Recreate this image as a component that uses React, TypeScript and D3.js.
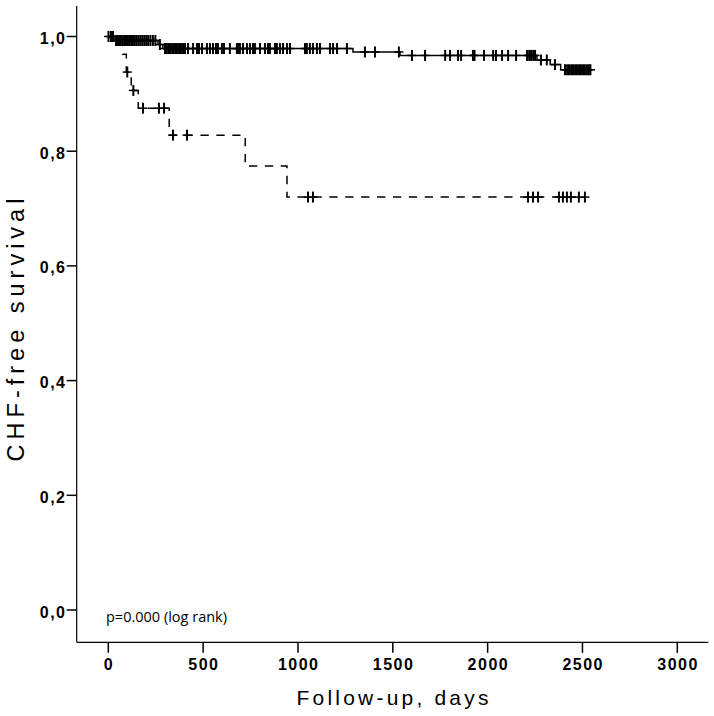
import React from 'react';
import * as d3 from 'd3';

// ---- data ----
const xTicks = [0, 500, 1000, 1500, 2000, 2500, 3000];
const yTicks = [0, 0.2, 0.4, 0.6, 0.8, 1.0];

// Group 1 (solid line): step times (days) and survival after each step
const solidTimes = [0, 30, 262, 288, 1290, 1538, 2260, 2330, 2385];
const solidSurv = [1.0, 0.993, 0.986, 0.979, 0.973, 0.967, 0.959, 0.951, 0.942];
const solidEnd = 2542;
const solidCensored = [
  1, 14, 25,
  41, 50, 58, 66, 75, 84, 93, 102, 110, 120, 130, 140, 150, 160, 170, 180, 190, 200, 210, 222, 235, 248,
  272,
  299, 309, 320, 330, 341, 352, 362, 373, 383, 394, 404, 420, 447, 468, 478, 494, 520, 536, 552, 568, 578,
  599, 610, 641, 678, 686, 694, 710, 731, 747, 763, 773, 800, 826, 842, 852, 879, 889, 905, 921, 942, 958,
  1037, 1047, 1063, 1079, 1100, 1116, 1169, 1185, 1206, 1258,
  1353, 1406, 1532,
  1601, 1670, 1776, 1802, 1844, 1860, 1923, 1931, 1981, 2029, 2044, 2076, 2108, 2150, 2208, 2219, 2229, 2240, 2250,
  2281, 2312, 2355,
  2408, 2419, 2429, 2440, 2450, 2461, 2471, 2482, 2492, 2503, 2513, 2524, 2534, 2542,
];

// Group 2 (dashed line)
const dashedTimes = [0, 76, 95, 121, 158, 321, 722, 942];
const dashedSurv = [1.0, 0.969, 0.938, 0.906, 0.875, 0.828, 0.774, 0.72];
const dashedEnd = 2513;
const dashedCensored = [100, 132, 183, 267, 294, 341, 415, 1053, 1079, 2213, 2239, 2266, 2376, 2397, 2418, 2439, 2481, 2513];

const W = 714;
const H = 716;
const axisLeft = 76.7;
const axisBottom = 642.3;
const axisTop = 6;
const axisRight = 708.3;

const x = d3.scaleLinear().domain([0, 3000]).range([108.3, 677.3]);
const y = d3.scaleLinear().domain([0, 1]).range([610, 36.5]);

function stepPoints(times: number[], surv: number[], end: number): [number, number][] {
  const pts: [number, number][] = times.map((t, i) => [t, surv[i]]);
  pts.push([end, surv[surv.length - 1]]);
  return pts;
}

function survAt(times: number[], surv: number[], t: number): number {
  const i = d3.bisectRight(times, t) - 1;
  return surv[Math.max(0, i)];
}

const line = d3
  .line<[number, number]>()
  .x((d) => x(d[0]))
  .y((d) => y(d[1]))
  .curve(d3.curveStepAfter);

const fmtY = (v: number) => d3.format('.1f')(v).replace('.', ',');

const tickFont = "'Liberation Sans', Arial, Helvetica, sans-serif";

function Censor({ t, s }: { t: number; s: number }) {
  const cx = x(t);
  const cy = y(s);
  return (
    <g>
      <line x1={cx - 4.5} x2={cx + 4.5} y1={cy} y2={cy} stroke="#000" strokeWidth={1.5} />
      <line x1={cx} x2={cx} y1={cy - 5.5} y2={cy + 5.5} stroke="#000" strokeWidth={2} />
    </g>
  );
}

export default function App() {
  const solidPath = line(stepPoints(solidTimes, solidSurv, solidEnd)) || '';
  const dashedPath = line(stepPoints(dashedTimes, dashedSurv, dashedEnd)) || '';
  return (
    <svg
      width={W}
      height={H}
      viewBox={`0 0 ${W} ${H}`}
      style={{ position: 'absolute', left: 0, top: 0, display: 'block', background: '#fff' }}
    >
      <rect x={0} y={0} width={W} height={H} fill="#fff" />
      {/* axes */}
      <line x1={axisLeft} x2={axisLeft} y1={axisTop} y2={axisBottom} stroke="#000" strokeWidth={1.2} />
      <line x1={axisLeft} x2={axisRight} y1={axisBottom} y2={axisBottom} stroke="#000" strokeWidth={1.2} />
      {yTicks.map((v) => (
        <g key={'y' + v}>
          <line x1={axisLeft - 10} x2={axisLeft} y1={y(v)} y2={y(v)} stroke="#000" strokeWidth={1.5} />
          <text
            x={66.5}
            y={y(v) + 7.5}
            textAnchor="end"
            fontFamily={tickFont}
            fontWeight="bold"
            fontSize={16}
            letterSpacing={1.5}
            fill="#000"
          >
            {fmtY(v)}
          </text>
        </g>
      ))}
      {xTicks.map((v) => (
        <g key={'x' + v}>
          <line x1={x(v)} x2={x(v)} y1={axisBottom} y2={axisBottom + 10.5} stroke="#000" strokeWidth={1.5} />
          <text
            x={x(v) + 0.75}
            y={670}
            textAnchor="middle"
            fontFamily={tickFont}
            fontWeight="bold"
            fontSize={16}
            letterSpacing={1.5}
            fill="#000"
          >
            {v}
          </text>
        </g>
      ))}
      {/* axis titles */}
      <text
        x={392.5 + 1.6}
        y={705}
        textAnchor="middle"
        fontFamily={tickFont}
        fontSize={21}
        letterSpacing={3.2}
        fill="#000"
      >
        Follow-up, days
      </text>
      <text
        transform={`translate(23.5, ${325 + 2.5}) rotate(-90)`}
        textAnchor="middle"
        fontFamily={tickFont}
        fontSize={23.5}
        letterSpacing={5}
        fill="#000"
      >
        CHF-free survival
      </text>
      <text x={106} y={621.5} fontFamily="'Open Sans', 'Noto Sans', sans-serif" fontSize={14.5} fill="#000">
        p=0.000 (log rank)
      </text>
      {/* curves */}
      <path d={dashedPath} fill="none" stroke="#000" strokeWidth={1.5} strokeDasharray="8.3,7.6" />
      <path d={solidPath} fill="none" stroke="#000" strokeWidth={1.5} />
      {dashedCensored.map((t, i) => (
        <Censor key={'dc' + i} t={t} s={survAt(dashedTimes, dashedSurv, t)} />
      ))}
      {solidCensored.map((t, i) => (
        <Censor key={'sc' + i} t={t} s={survAt(solidTimes, solidSurv, t)} />
      ))}
    </svg>
  );
}
